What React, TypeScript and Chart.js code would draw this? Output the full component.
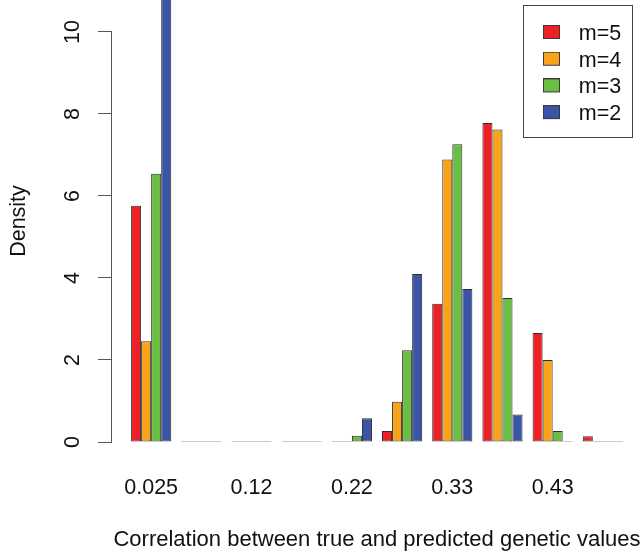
import React, { useEffect, useRef } from "react";
import { Chart, registerables } from "chart.js";

Chart.register(...registerables);

// ---- data ----
const categories = ["0.025", "", "0.12", "", "0.22", "", "0.33", "", "0.43", ""];
const seriesNames = ["m=5", "m=4", "m=3", "m=2"];
const densityM5 = [5.76, 0, 0, 0, 0, 0.27, 3.37, 7.78, 2.66, 0.14];
const densityM4 = [2.46, 0, 0, 0, 0, 0.98, 6.89, 7.62, 2.0, 0];
const densityM3 = [6.54, 0, 0, 0, 0.15, 2.24, 7.26, 3.51, 0.27, 0];
const densityM2 = [12.0, 0, 0, 0, 0.58, 4.1, 3.73, 0.67, 0, 0];
const seriesColors = ["#EE1F25", "#F9A31B", "#6BBE45", "#3A55A5"];
const yTickValues = [0, 2, 4, 6, 8, 10];
const xTitle = "Correlation between true and predicted genetic values";
const yTitle = "Density";

const FAMILY = "'Liberation Sans', Arial, Helvetica, sans-serif";
const FONT = { family: FAMILY, size: 21.5 };
const TITLE_FONT = { family: FAMILY, size: 22 };
const TEXT = "#111";
const EDGE = "#2f2f2f";

function makeSwatch(color: string): HTMLCanvasElement {
  const c = document.createElement("canvas");
  c.width = 25;
  c.height = 18;
  const g = c.getContext("2d")!;
  g.fillStyle = color;
  g.fillRect(0, 0, 17, 14);
  g.strokeStyle = "#3a3a3a";
  g.lineWidth = 1;
  g.strokeRect(0.5, 0.5, 16, 13);
  return c;
}

export default function App() {
  const ref = useRef<HTMLCanvasElement | null>(null);

  useEffect(() => {
    if (!ref.current) return;
    const seriesValues = [densityM5, densityM4, densityM3, densityM2];
    const swatches = seriesColors.map(makeSwatch);

    const decorations = {
      id: "decorations",
      afterLayout(chart: any) {
        const lg = chart.legend;
        const ca = chart.chartArea;
        if (lg) {
          const pad = 5.2;
          const left = ca.right - 99 - pad;
          const top = 23.25 - pad;
          lg.left = left;
          lg.top = top;
          lg.width = 100;
          lg.height = 125;
          lg.right = left + 100;
          lg.bottom = top + 125;
        }
      },
      afterDraw(chart: any) {
        const { ctx, chartArea: ca, scales } = chart;
        const y = scales.y;
        ctx.save();
        ctx.strokeStyle = "#555";
        ctx.lineWidth = 1;
        ctx.beginPath();
        const x0 = ca.left - 0.5;
        ctx.moveTo(x0, y.getPixelForValue(yTickValues[0]) + 0.5);
        ctx.lineTo(x0, y.getPixelForValue(yTickValues[yTickValues.length - 1]) - 0.5);
        ctx.stroke();
        const bx = ca.right - 99;
        ctx.strokeStyle = "#444";
        ctx.strokeRect(bx - 19.5, 5.5, 109, 132);
        ctx.restore();
      },
    };

    const chart = new Chart(ref.current, {
      type: "bar",
      data: {
        datasets: seriesNames.map((name, i) => ({
          label: name,
          data: categories.map((_, k) => ({ x: k, y: seriesValues[i][k] })),
          backgroundColor: seriesColors[i],
          borderColor: EDGE,
          borderWidth: 1,
          borderSkipped: false,
          minBarLength: 1,
          categoryPercentage: 0.8,
          barPercentage: 1,
        })),
      },
      options: {
        animation: false,
        responsive: false,
        devicePixelRatio: 1,
        layout: { padding: 0 },
        scales: {
          x: {
            type: "linear",
            offset: false,
            min: -0.78,
            max: 9.78,
            bounds: "data",
            afterFit: (s: any) => {
              s.height = 114;
              s.paddingLeft = 0;
              s.paddingRight = 0;
            },
            afterBuildTicks: (s: any) => {
              s.ticks = categories.map((_, i) => ({ value: i }));
            },
            border: { display: false },
            grid: { display: false, drawTicks: false, offset: false },
            ticks: {
              autoSkip: false,
              maxRotation: 0,
              minRotation: 0,
              padding: 33,
              font: FONT,
              color: TEXT,
              callback: (_v: any, i: number) => categories[i],
            },
            title: {
              display: true,
              text: xTitle,
              font: TITLE_FONT,
              color: TEXT,
              padding: { top: 0, bottom: 3 },
            },
          },
          y: {
            min: 0,
            max: 10.78,
            bounds: "data",
            afterFit: (s: any) => {
              s.width = 112;
              s.paddingTop = 0;
              s.paddingBottom = 0;
            },
            afterBuildTicks: (s: any) => {
              s.ticks = yTickValues.map((v) => ({ value: v }));
            },
            border: { display: false },
            grid: {
              drawOnChartArea: false,
              drawTicks: true,
              tickLength: 14,
              color: "#555",
              lineWidth: 1,
            },
            ticks: {
              minRotation: 90,
              maxRotation: 90,
              crossAlign: "center",
              padding: 13,
              font: FONT,
              color: TEXT,
            },
            title: {
              display: true,
              text: yTitle,
              font: FONT,
              color: TEXT,
              padding: { top: 6.5, bottom: 0 },
            },
          },
        },
        plugins: {
          tooltip: { enabled: false },
          legend: {
            position: "chartArea",
            align: "start",
            labels: {
              font: FONT,
              color: TEXT,
              boxWidth: 17,
              boxHeight: 13,
              padding: 5.2,
              usePointStyle: true,
              pointStyleWidth: 25,
              generateLabels: (ch: any) => {
                const items = (Chart as any).defaults.plugins.legend.labels.generateLabels(ch);
                return items.map((it: any, i: number) => ({ ...it, pointStyle: swatches[i] }));
              },
            },
          },
        },
      } as any,
      plugins: [decorations],
    });
    return () => chart.destroy();
  }, []);

  return (
    <div style={{ position: "absolute", left: 0, top: 0, width: 642, height: 556 }}>
      <canvas ref={ref} width={642} height={556} style={{ display: "block" }} />
    </div>
  );
}
